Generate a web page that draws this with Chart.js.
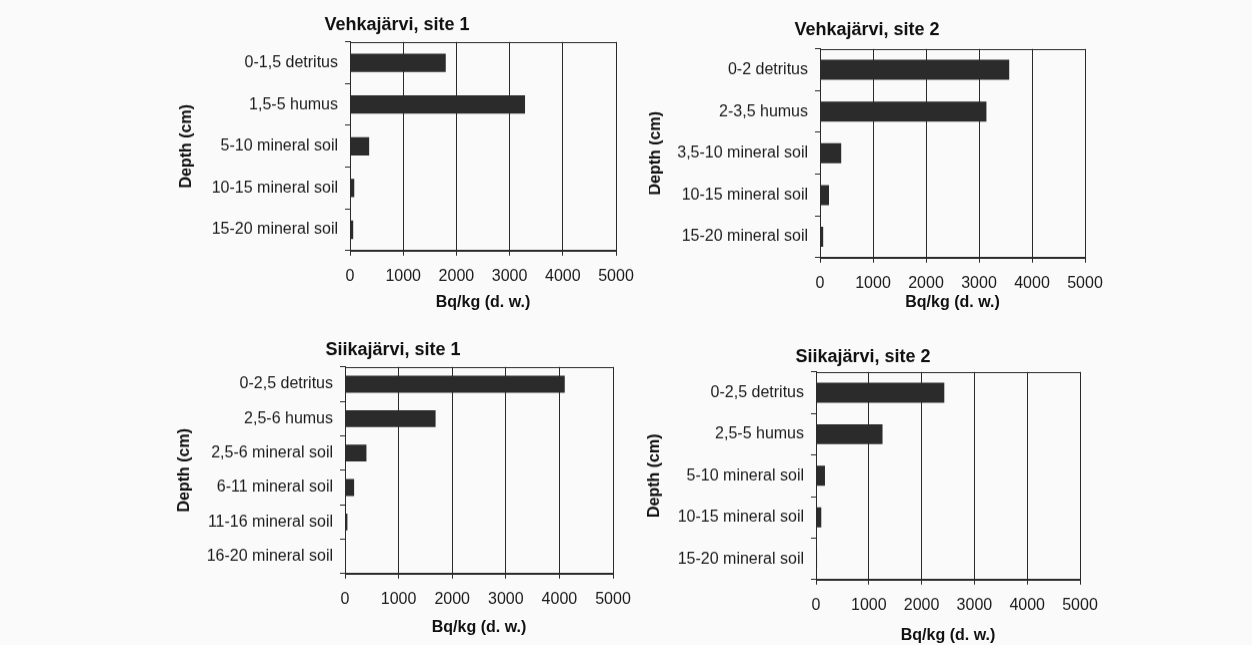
<!DOCTYPE html>
<html>
<head>
<meta charset="utf-8">
<script src="https://cdn.jsdelivr.net/npm/chart.js@4.4.1/dist/chart.umd.min.js"></script>
<style>
  html, body { margin: 0; padding: 0; background: #fafafa; }
  body { width: 1252px; height: 645px; position: relative; overflow: hidden; }
  .panel { position: absolute; }
</style>
</head>
<body>
<div class="panel" id="p1"><canvas id="c1"></canvas></div>
<div class="panel" id="p2"><canvas id="c2"></canvas></div>
<div class="panel" id="p3"><canvas id="c3"></canvas></div>
<div class="panel" id="p4"><canvas id="c4"></canvas></div>
<script>
// ---- data ----
const xTickValues = [0, 1000, 2000, 3000, 4000, 5000];

const vehkajarvi1Title = 'Vehkajärvi, site 1';
const vehkajarvi1Labels = ['0-1,5 detritus', '1,5-5 humus', '5-10 mineral soil', '10-15 mineral soil', '15-20 mineral soil'];
const vehkajarvi1Values = [1800, 3290, 360, 80, 60];

const vehkajarvi2Title = 'Vehkajärvi, site 2';
const vehkajarvi2Labels = ['0-2 detritus', '2-3,5 humus', '3,5-10 mineral soil', '10-15 mineral soil', '15-20 mineral soil'];
const vehkajarvi2Values = [3570, 3140, 400, 170, 60];

const siikajarvi1Title = 'Siikajärvi, site 1';
const siikajarvi1Labels = ['0-2,5 detritus', '2,5-6 humus', '2,5-6 mineral soil', '6-11 mineral soil', '11-16 mineral soil', '16-20 mineral soil'];
const siikajarvi1Values = [4100, 1690, 400, 170, 45, 10];

const siikajarvi2Title = 'Siikajärvi, site 2';
const siikajarvi2Labels = ['0-2,5 detritus', '2,5-5 humus', '5-10 mineral soil', '10-15 mineral soil', '15-20 mineral soil'];
const siikajarvi2Values = [2430, 1260, 170, 100, 20];

const xAxisTitle = 'Bq/kg (d. w.)';
const yAxisTitle = 'Depth (cm)';

// ---- layout (page pixels) ----
const layouts = {
  p1: { L: 350, R: 616, T: 42, B: 250, tx: 397, ty: 25, xty: 302, dx: 187, bar: 0.44 },
  p2: { L: 820, R: 1085, T: 49, B: 257, tx: 867, ty: 30, xty: 302, dx: 655, bar: 0.48 },
  p3: { L: 345, R: 613, T: 367, B: 573, tx: 393, ty: 350, xty: 627, dx: 185, bar: 0.49 },
  p4: { L: 816, R: 1080, T: 372, B: 579, tx: 863, ty: 357, xty: 635, dx: 655, bar: 0.48 }
};

const FONT = "'Liberation Sans', Arial, Helvetica, sans-serif";
const INK = '#1a1a1a';
const LINE = '#2a2a2a';
const BAR = '#2b2b2b';

const frame = {
  id: 'frame',
  afterDraw(chart) {
    const a = chart.chartArea, ctx = chart.ctx;
    ctx.save();
    ctx.strokeStyle = LINE;
    ctx.lineWidth = 1;
    ctx.strokeRect(Math.round(a.left) + 0.5, Math.round(a.top) + 0.5,
                   Math.round(a.right - a.left), Math.round(a.bottom - a.top));
    ctx.restore();
  }
};

function makePanel(divId, canvasId, title, labels, values) {
  const g = layouts[divId];
  const padRight = 34;
  const titleSize = 18, titleLH = titleSize * 1.2, titlePadTop = 4;
  const left = 2 * g.tx - g.R;          // title box is centred between canvas left and plot right
  const W = g.R + padRight - left;
  const top = g.ty - titlePadTop - titleLH / 2;
  const titlePadBottom = g.T - top - titlePadTop - titleLH;
  const xH = (g.xty - g.B) + 9.6;
  const H = (g.B - top) + xH;
  const yW = g.L - left;
  const yTitleLH = 0.8;
  const yTitlePad = Math.max(0, g.dx - left - 16 * yTitleLH / 2);

  const div = document.getElementById(divId);
  div.style.left = left + 'px';
  div.style.top = top + 'px';
  div.style.width = W + 'px';
  div.style.height = H + 'px';

  new Chart(document.getElementById(canvasId), {
    type: 'bar',
    data: {
      labels: labels,
      datasets: [{
        data: values,
        backgroundColor: BAR,
        borderWidth: 0,
        barPercentage: g.bar,
        categoryPercentage: 1
      }]
    },
    options: {
      indexAxis: 'y',
      responsive: true,
      maintainAspectRatio: false,
      animation: false,
      devicePixelRatio: 1,
      layout: { padding: { left: 0, right: padRight, top: 0, bottom: 0 } },
      plugins: {
        legend: { display: false },
        tooltip: { enabled: false },
        title: {
          display: true,
          text: title,
          color: '#111',
          font: { family: FONT, size: titleSize, weight: 'bold', lineHeight: 1.2 },
          padding: { top: titlePadTop, bottom: titlePadBottom }
        }
      },
      scales: {
        x: {
          type: 'linear',
          min: 0,
          max: 5000,
          afterBuildTicks(scale) { scale.ticks = xTickValues.map(v => ({ value: v })); },
          afterFit(scale) { scale.height = xH; },
          ticks: {
            color: INK,
            font: { family: FONT, size: 16, lineHeight: 1.2 },
            padding: 11,
            maxRotation: 0,
            callback: v => String(v)
          },
          grid: { color: LINE, lineWidth: 1, tickLength: 5, drawTicks: true },
          border: { display: true, color: LINE, width: 1 },
          title: {
            display: true,
            text: xAxisTitle,
            color: '#111',
            font: { family: FONT, size: 16, weight: 'bold', lineHeight: 1.2 },
            padding: { top: 4, bottom: 0 }
          }
        },
        y: {
          type: 'category',
          offset: true,
          afterFit(scale) { scale.width = yW; },
          ticks: {
            color: INK,
            font: { family: FONT, size: 16, lineHeight: 1.2 },
            padding: 7,
            autoSkip: false
          },
          grid: { offset: true, drawOnChartArea: false, drawTicks: true, tickLength: 5, color: LINE, lineWidth: 1 },
          border: { display: true, color: LINE, width: 1 },
          title: {
            display: true,
            text: yAxisTitle,
            color: '#111',
            font: { family: FONT, size: 16, weight: 'bold', lineHeight: yTitleLH },
            padding: { top: yTitlePad, bottom: 0 }
          }
        }
      }
    },
    plugins: [frame]
  });
}

makePanel('p1', 'c1', vehkajarvi1Title, vehkajarvi1Labels, vehkajarvi1Values);
makePanel('p2', 'c2', vehkajarvi2Title, vehkajarvi2Labels, vehkajarvi2Values);
makePanel('p3', 'c3', siikajarvi1Title, siikajarvi1Labels, siikajarvi1Values);
makePanel('p4', 'c4', siikajarvi2Title, siikajarvi2Labels, siikajarvi2Values);
</script>
</body>
</html>
